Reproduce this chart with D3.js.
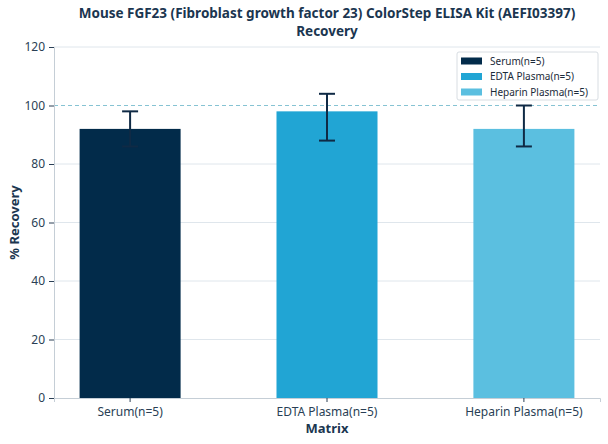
<!DOCTYPE html>
<html>
<head>
<meta charset="utf-8">
<script src="https://cdn.jsdelivr.net/npm/d3@7"></script>
<style>
  body { margin: 0; background: #fff; }
  text { font-family: "Noto Sans", "Open Sans", sans-serif; }
</style>
</head>
<body>
<div id="chart"></div>
<script>
// chart data
var categories = ["Serum(n=5)", "EDTA Plasma(n=5)", "Heparin Plasma(n=5)"];
var recovery = [92, 98, 92];
var errHigh = [98, 104, 100];
var errLow = [86, 88, 86];
var barColors = ["#022b4a", "#21a5d4", "#5bbfe0"];
var yTicks = [0, 20, 40, 60, 80, 100, 120];
var titleLines = ["Mouse FGF23 (Fibroblast growth factor 23) ColorStep ELISA Kit (AEFI03397)", "Recovery"];

var width = 608, height = 444;
var margin = {top: 47, right: 8, bottom: 46, left: 54};

var svg = d3.select("#chart").append("svg")
    .attr("width", width)
    .attr("height", height);

var x = d3.scaleBand()
    .domain(categories)
    .range([margin.left, width - margin.right])
    .paddingInner(0.487)
    .paddingOuter(0.13);

var y = d3.scaleLinear()
    .domain([0, 120])
    .range([height - margin.bottom, margin.top]);

// grid lines
svg.append("g").selectAll("line")
    .data(yTicks.filter(function(d) { return d > 0 && d != 100; }))
    .enter().append("line")
    .attr("x1", margin.left)
    .attr("x2", width - margin.right)
    .attr("y1", function(d) { return y(d); })
    .attr("y2", function(d) { return y(d); })
    .style("stroke", "#dfe6ec")
    .style("stroke-width", 1);

// bars
svg.append("g").selectAll("rect")
    .data(categories)
    .enter().append("rect")
    .attr("x", function(d) { return x(d); })
    .attr("y", function(d, i) { return y(recovery[i]); })
    .attr("width", x.bandwidth())
    .attr("height", function(d, i) { return y(0) - y(recovery[i]); })
    .style("fill", function(d, i) { return barColors[i]; });

// 100% reference line
svg.append("line")
    .attr("x1", margin.left)
    .attr("x2", width - margin.right)
    .attr("y1", y(100))
    .attr("y2", y(100))
    .style("stroke", "#86c3d3")
    .style("stroke-width", 1)
    .style("stroke-dasharray", "4,3");

// error bars
var eb = svg.append("g").selectAll("g")
    .data(categories)
    .enter().append("g");
eb.append("line")
    .attr("x1", function(d) { return x(d) + x.bandwidth() / 2; })
    .attr("x2", function(d) { return x(d) + x.bandwidth() / 2; })
    .attr("y1", function(d, i) { return y(errHigh[i]); })
    .attr("y2", function(d, i) { return y(errLow[i]); });
eb.append("line")
    .attr("x1", function(d) { return x(d) + x.bandwidth() / 2 - 8; })
    .attr("x2", function(d) { return x(d) + x.bandwidth() / 2 + 8; })
    .attr("y1", function(d, i) { return y(errHigh[i]); })
    .attr("y2", function(d, i) { return y(errHigh[i]); });
eb.append("line")
    .attr("x1", function(d) { return x(d) + x.bandwidth() / 2 - 8; })
    .attr("x2", function(d) { return x(d) + x.bandwidth() / 2 + 8; })
    .attr("y1", function(d, i) { return y(errLow[i]); })
    .attr("y2", function(d, i) { return y(errLow[i]); });
eb.selectAll("line")
    .style("stroke", "#0f2a45")
    .style("stroke-width", 2);

// axes
var yAxis = svg.append("g")
    .attr("transform", "translate(" + margin.left + ",0)")
    .call(d3.axisLeft(y).tickValues(yTicks).tickSize(5).tickPadding(4));
var xAxis = svg.append("g")
    .attr("transform", "translate(0," + y(0) + ")")
    .call(d3.axisBottom(x).tickSize(4).tickPadding(5));

[yAxis, xAxis].forEach(function(a) {
    a.select(".domain").style("stroke", "#c5ced6");
    a.selectAll(".tick line").style("stroke", "#2a3f55");
    a.selectAll(".tick text")
        .style("fill", "#2a3f55")
        .style("font-size", "12px");
});

// title, two lines
svg.append("g").selectAll("text")
    .data(titleLines)
    .enter().append("text")
    .attr("x", 327)
    .attr("y", function(d, i) { return 18 + i * 18; })
    .attr("text-anchor", "middle")
    .style("font-size", "13.5px").style("font-weight", "bold")
    .style("fill", "#1b3650")
    .text(function(d) { return d; });

// axis titles
svg.append("text")
    .attr("x", 327).attr("y", 433)
    .attr("text-anchor", "middle")
    .style("font-size", "13px").style("font-weight", "bold")
    .style("fill", "#1b3650")
    .text("Matrix");
svg.append("text")
    .attr("transform", "translate(19," + y(60) + ") rotate(-90)")
    .attr("text-anchor", "middle")
    .style("font-size", "13px").style("font-weight", "bold")
    .style("fill", "#1b3650")
    .text("% Recovery");

// legend
var legend = svg.append("g").attr("transform", "translate(457,52)");
legend.append("rect")
    .attr("width", 141).attr("height", 48)
    .attr("rx", 2)
    .style("fill", "#fff")
    .style("stroke", "#d8dde2");
var li = legend.selectAll(".item")
    .data(categories)
    .enter().append("g")
    .attr("class", "item")
    .attr("transform", function(d, i) { return "translate(4," + (9 + i * 15.5) + ")"; });
li.append("rect")
    .attr("y", -3.5)
    .attr("width", 21).attr("height", 7)
    .style("fill", function(d, i) { return barColors[i]; });
li.append("text")
    .attr("x", 29).attr("y", 3.5)
    .style("font-size", "10px")
    .style("fill", "#1b2b3a")
    .text(function(d) { return d; });
</script>
</body>
</html>
